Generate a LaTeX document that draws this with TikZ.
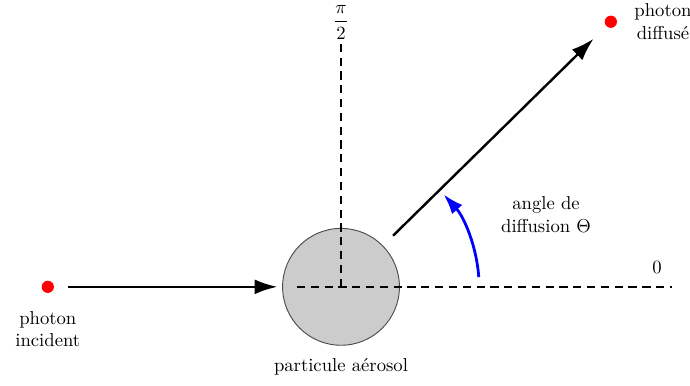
\documentclass[tikz,border=0pt]{standalone}
\usetikzlibrary{arrows.meta, positioning}

\begin{document}
\begin{tikzpicture}[every node/.style={font=\normalsize},
  dot/.style={circle, fill=red, inner sep=0pt, minimum size=2.3mm},
  ray/.style={-{Latex[length=4.3mm, width=2.8mm]}, line width=1.3pt},
  axis/.style={line width=1.4pt, dash pattern=on 4.4pt off 3pt},
  lbl/.style={align=center, inner sep=1pt}]
  \useasboundingbox (-6.42,-1.85) rectangle (6.57,5.40);
  % particle and photons
  \node[circle, draw=black!70, fill=black!20, line width=0.5pt, minimum size=2.2cm] (part) at (0,0) {};
  \node[dot] (inc) at (-5.52,0) {};
  \node[dot] (dif) at (5.08,4.99) {};
  \node[lbl, below=0.2cm of part] {particule a\'erosol};
  \node[lbl, below=0.3cm of inc] {photon\\incident};
  \node[lbl, right=0.28cm of dif] {photon\\diffus\'e};
  % axes
  \coordinate (axL) at (-0.83,0);
  \coordinate (axR) at (6.23,0);
  \coordinate (axT) at (0,4.65);
  \draw[axis] (axL) -- (axR);
  \draw[axis] (part.center) -- (axT);
  \node[lbl] (zero) at (5.95,0.36) {$0$};
  \node[lbl, inner sep=0pt] (half) at (0,4.98) {$\displaystyle\frac{\pi}{2}$};
  % rays
  \draw[ray, shorten <=7.5pt, shorten >=2.5pt] (inc) -- (part);
  \draw[ray, shorten <=7.5pt, shorten >=9.5pt] (part) -- (dif);
  % scattering angle
  \draw[blue, line width=1.5pt, -{Latex[length=3.8mm, width=2.6mm]}]
    ([shift={(4:2.6)}]part.center) arc[start angle=4, end angle=42, radius=2.6];
  \node[lbl] (ang) at (3.86,1.36) {angle de\\diffusion $\Theta$};
\end{tikzpicture}
\end{document}
